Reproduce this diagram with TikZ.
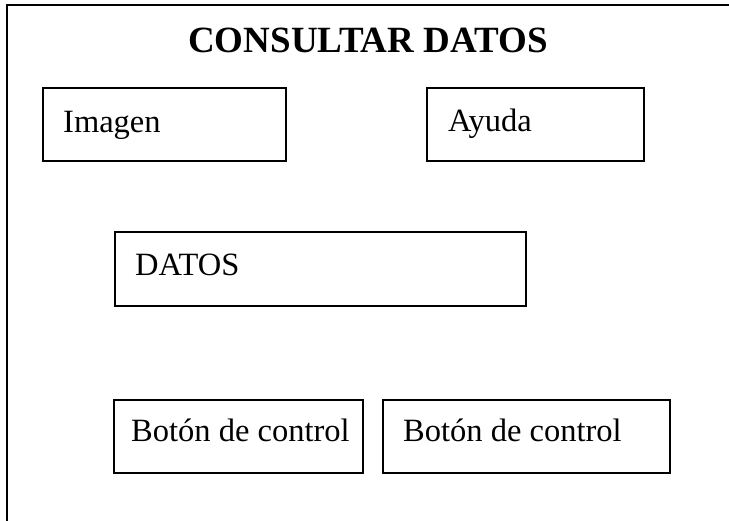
\documentclass[tikz,border=0pt]{standalone}
\usepackage{fontspec}
\setmainfont{Liberation Serif}
\begin{document}
\begin{tikzpicture}[x=1pt,y=-1pt,
  frame/.style={line width=2pt},
  box/.style={draw,line width=1.6pt,rectangle,inner sep=0pt,anchor=north west},
  lbl/.style={anchor=base west,inner sep=0pt,font=\fontsize{32.5}{38}\selectfont},
  ttl/.style={anchor=base,inner sep=0pt,font=\fontsize{37}{44}\selectfont\bfseries}]
\useasboundingbox (0,0) rectangle (729,521);
\coordinate (fb) at (7,521);
\coordinate (fc) at (7,5);
\coordinate (fr) at (729,5);
\draw[frame,line cap=rect] (fb) -- (fc) -- (fr);
\node[ttl] (title) at (368,53) {CONSULTAR DATOS};
\node[box,minimum width=243pt,minimum height=73pt] (imgbox) at (42,87) {};
\node[lbl] (img) at (63,133) {Imagen};
\node[box,minimum width=217pt,minimum height=73pt] (aybox) at (426,87) {};
\node[lbl] (ay) at (448,132) {Ayuda};
\node[box,minimum width=411pt,minimum height=74pt] (dbox) at (114,231) {};
\node[lbl] (d) at (135,276) {DATOS};
\node[box,minimum width=249pt,minimum height=73pt] (b1box) at (113,399) {};
\node[lbl] (b1) at (131,442) {Botón de control};
\node[box,minimum width=287pt,minimum height=73pt] (b2box) at (382,399) {};
\node[lbl] (b2) at (403,442) {Botón de control};
\end{tikzpicture}
\end{document}
